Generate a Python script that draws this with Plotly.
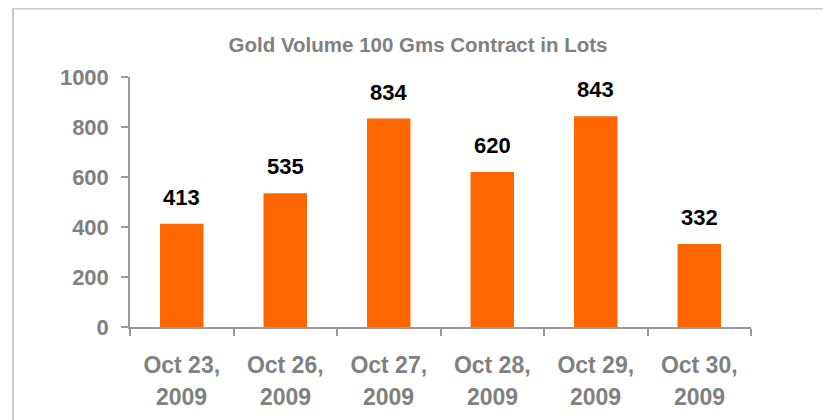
import plotly.graph_objects as go

dates = ["Oct 23,", "Oct 26,", "Oct 27,", "Oct 28,", "Oct 29,", "Oct 30,"]
years = ["2009", "2009", "2009", "2009", "2009", "2009"]
categories = [f"{d} {y}" for d, y in zip(dates, years)]
volumes = [413, 535, 834, 620, 843, 332]
y_ticks = [0, 200, 400, 600, 800, 1000]
title_text = "Gold Volume 100 Gms Contract in Lots"

FONT = "Liberation Sans, Arial, sans-serif"
GRAY = "#808080"

W, H = 823, 412
L, T, R, B = 122, 69, 80, 93

fig = go.Figure()
fig.add_trace(go.Bar(
    x=categories, y=volumes,
    marker=dict(color="#FF6600", line=dict(width=0)),
    width=0.42,
    hoverinfo="skip",
))

for c, v in zip(categories, volumes):
    fig.add_annotation(
        x=c, y=v, text=f"<b>{v}</b>", showarrow=False,
        yanchor="bottom", yshift=12,
        font=dict(family=FONT, size=22, color="#000000"),
    )

# second line of category labels (year), anchored to each category
for c, yr in zip(categories, years):
    fig.add_annotation(
        x=c, xref="x", y=0, yref="paper", text=f"<b>{yr}</b>", showarrow=False,
        yanchor="middle", yshift=-70,
        font=dict(family=FONT, size=23, color=GRAY),
    )

fig.update_layout(
    width=W, height=H,
    margin=dict(l=L, r=R, t=T, b=B),
    paper_bgcolor="white", plot_bgcolor="white",
    showlegend=False,
    title=dict(text=f"<b>{title_text}</b>", x=410 / W, xanchor="center",
               y=1 - 37 / H, yanchor="middle",
               font=dict(family=FONT, size=20.5, color=GRAY)),
    font=dict(family=FONT),
    xaxis=dict(
        showgrid=False, showline=True, linecolor="#999999", linewidth=1.5,
        ticks="outside", ticklen=7, tickcolor="#999999", tickwidth=1.5,
        tickson="boundaries",
        tickvals=categories,
        ticktext=[f"<b>{d}</b>" for d in dates],
        tickfont=dict(family=FONT, size=23, color=GRAY),
        ticklabelstandoff=17,
    ),
    yaxis=dict(
        range=[0, 1000], tickvals=y_ticks,
        ticktext=[f"<b>{t}</b>" for t in y_ticks],
        showgrid=False, zeroline=False, showline=True, linecolor="#999999", linewidth=1.5,
        ticks="outside", ticklen=7, tickcolor="#999999", tickwidth=1.5,
        tickfont=dict(family=FONT, size=22, color=GRAY),
        ticklabelstandoff=8,
    ),
)

# outer frame lines (top and left), in pixel-derived paper coordinates
pw, ph = W - L - R, H - T - B
def px(xp):
    return (xp - L) / pw
def py(yp):
    return (H - B - yp) / ph

fig.add_shape(type="line", xref="paper", yref="paper",
              x0=px(5), y0=py(0.5), x1=px(W + 5), y1=py(0.5),
              line=dict(color="#C8C8C8", width=2))
fig.add_shape(type="line", xref="paper", yref="paper",
              x0=px(5), y0=py(0.5), x1=px(5), y1=py(H + 5),
              line=dict(color="#C8C8C8", width=2))

fig.write_html("out.html")
